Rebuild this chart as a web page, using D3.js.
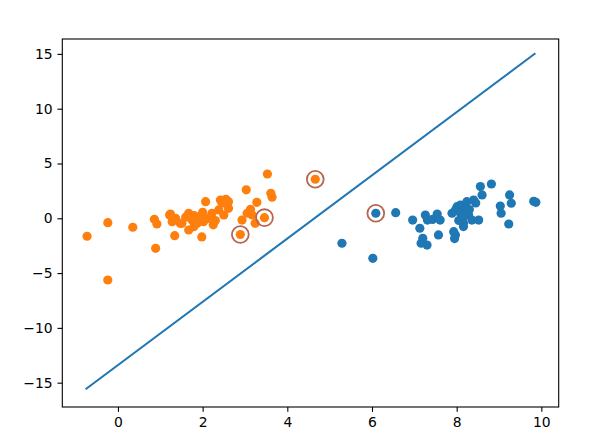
<!DOCTYPE html>
<html>
<head>
<meta charset="utf-8">
<script src="https://cdn.jsdelivr.net/npm/d3@7"></script>
<style>
  html, body { margin: 0; padding: 0; background: #fff; }
  svg { display: block; }
  text { font-family: "DejaVu Sans", sans-serif; }
</style>
</head>
<body>
<svg id="chart" width="600" height="446"></svg>
<script>
// ---- data ----
const orangeX = [-0.73, -0.24, -0.24, 0.35, 0.86, 0.92, 0.89, 1.22, 1.34, 1.28, 1.47, 1.24, 1.36, 1.51, 1.67, 1.75, 1.79, 1.67, 1.94, 1.87, 2.02, 2.14, 1.98, 2.22, 2.38, 2.46, 2.61, 2.50, 2.07, 2.42, 2.55, 2.61, 3.03, 3.53, 3.61, 3.64, 3.28, 3.13, 3.17, 2.93, 3.24, 3.05, 2.89, 3.46, 4.66, 1.80, 1.90, 2.30, 2.00, 1.60, 2.25];
const orangeY = [-1.64, -0.40, -5.63, -0.82, -0.09, -0.52, -2.74, 0.30, -1.59, -0.31, -0.46, 0.39, 0.00, -0.46, 0.46, -0.16, -0.77, -1.07, 0.15, -0.46, -0.31, 0.00, -1.70, 0.46, 0.76, 1.37, 1.52, 0.30, 1.52, 1.67, 1.73, 0.91, 2.60, 4.04, 2.28, 1.92, 1.46, 0.82, 0.30, -0.16, -0.46, 0.46, -1.48, 0.06, 3.56, 0.25, -0.15, -0.20, 0.55, 0.10, -0.60];
const blueX = [6.09, 5.29, 6.02, 6.56, 6.96, 7.13, 7.20, 7.16, 7.30, 7.26, 7.31, 7.43, 7.54, 7.61, 7.57, 7.89, 7.93, 7.97, 8.16, 8.01, 8.09, 8.24, 8.40, 8.60, 8.56, 8.82, 7.97, 8.09, 8.28, 8.36, 8.52, 8.16, 9.03, 9.05, 9.25, 9.29, 9.23, 9.82, 9.87, 8.20, 8.05, 8.30, 7.95, 8.45, 8.15];
const blueY = [0.46, -2.28, -3.65, 0.51, -0.16, -0.91, -1.83, -2.28, -2.44, 0.30, -0.16, -0.10, 0.39, -0.16, -1.52, 0.46, -1.22, -1.52, -0.76, 1.06, 1.21, 1.52, 1.67, 2.13, 2.89, 3.13, 0.76, 0.46, 0.30, -0.16, -0.16, -0.46, 1.12, 0.46, 2.13, 1.37, -0.52, 1.55, 1.46, 0.90, -0.20, 0.80, -1.85, 1.40, 0.10];
const circledX = [2.89, 3.46, 4.66, 6.09];
const circledY = [-1.48, 0.06, 3.56, 0.46];
const lineX = [-0.765, 9.86];
const lineY = [-15.6, 15.06];
const xTicks = [0, 2, 4, 6, 8, 10];
const yTicks = [-15, -10, -5, 0, 5, 10, 15];

// ---- layout ----
const mLeft = 62.3, mRight = 558.7, mTop = 39, mBottom = 407;
const svg = d3.select("#chart");
const x = d3.scaleLinear().domain([-1.315, 10.41]).range([mLeft, mRight]);
const y = d3.scaleLinear().domain([-17.22, 16.36]).range([mBottom, mTop]);

const fmt = d => (d < 0 ? "\u2212" + Math.abs(d) : String(d));

const plot = svg.append("g");
const blue = d3.zip(blueX, blueY);
const orange = d3.zip(orangeX, orangeY);

plot.selectAll("circle.b").data(blue).join("circle")
  .attr("class", "b")
  .attr("cx", d => x(d[0])).attr("cy", d => y(d[1])).attr("r", 4.6)
  .attr("fill", "#1f77b4");
plot.selectAll("circle.o").data(orange).join("circle")
  .attr("class", "o")
  .attr("cx", d => x(d[0])).attr("cy", d => y(d[1])).attr("r", 4.6)
  .attr("fill", "#ff7f0e");

plot.append("path")
  .datum(d3.zip(lineX, lineY))
  .attr("d", d3.line().x(d => x(d[0])).y(d => y(d[1])))
  .attr("fill", "none").attr("stroke", "#1f77b4").attr("stroke-width", 2.08);

plot.selectAll("circle.ring").data(d3.zip(circledX, circledY)).join("circle")
  .attr("class", "ring")
  .attr("cx", d => x(d[0])).attr("cy", d => y(d[1])).attr("r", 8.4)
  .attr("fill", "none").attr("stroke", "#b8654f").attr("stroke-width", 1.8);

// axes
const xAxis = d3.axisBottom(x).tickValues(xTicks).tickFormat(fmt).tickSize(4.86).tickPadding(4.86);
const yAxis = d3.axisLeft(y).tickValues(yTicks).tickFormat(fmt).tickSize(4.86).tickPadding(4.86);

const gx = svg.append("g").attr("transform", `translate(0,${mBottom})`).call(xAxis);
const gy = svg.append("g").attr("transform", `translate(${mLeft},0)`).call(yAxis);
[gx, gy].forEach(g => {
  g.select(".domain").remove();
  g.selectAll(".tick line").attr("stroke", "#000").attr("stroke-width", 1.1);
  g.selectAll(".tick text").attr("fill", "#000").style("font-size", "13.9px").style("font-family", "'DejaVu Sans', sans-serif");
});

// frame
svg.append("rect")
  .attr("x", mLeft).attr("y", mTop)
  .attr("width", mRight - mLeft).attr("height", mBottom - mTop)
  .attr("fill", "none").attr("stroke", "#000").attr("stroke-width", 1.1);
</script>
</body>
</html>
